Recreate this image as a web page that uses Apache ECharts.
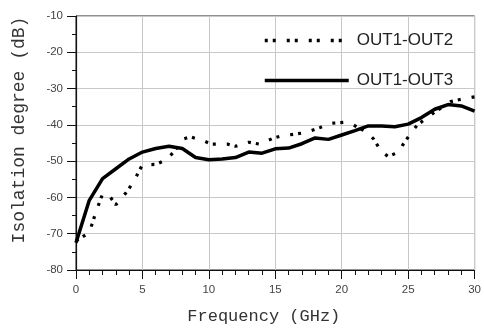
<!DOCTYPE html>
<html><head><meta charset="utf-8">
<script src="https://cdn.jsdelivr.net/npm/echarts@6/dist/echarts.min.js"></script>
<style>html,body{margin:0;padding:0;background:#fff}#c{width:484px;height:330px}</style>
</head><body><div id="c"></div>
<script>
const seriesNames = ['OUT1-OUT2', 'OUT1-OUT3'];
const xTickLabels = [0, 5, 10, 15, 20, 25, 30];
const yTickLabels = [-80, -70, -60, -50, -40, -30, -20, -10];
// OUT1-OUT2 (dotted)
const out12Freq = [0, 1, 1.5, 2, 2.5, 3, 3.5, 4, 4.5, 5, 6, 6.8, 7.4, 8, 8.6, 9.6, 10.2, 11.4, 12, 13, 13.8, 14.9, 15.5, 16.6, 17.3, 18.4, 19.1, 20.2, 20.9, 21.9, 22.4, 23, 23.5, 24.3, 24.6, 25.3, 25.7, 27, 28.2, 28.9, 30];
const out12dB = [-72, -69.7, -64, -59, -59.5, -62, -60, -57.5, -54.5, -51, -50.9, -49.6, -47.3, -44, -43.3, -44.4, -45.3, -45.3, -45.9, -44.8, -45.3, -43.6, -43, -42.5, -42.1, -40.7, -39.6, -39.3, -40.1, -42, -43.9, -47.5, -48.7, -47.5, -45.5, -41.8, -40, -36.5, -33.6, -33, -32.3];
// OUT1-OUT3 (solid)
const out13Freq = [0, 1, 2, 3, 4, 5, 6, 7, 8, 9, 10, 11, 12, 13, 14, 15, 16, 17, 18, 19, 20, 21, 22, 23, 24, 25, 26, 27, 28, 29, 30];
const out13dB = [-72.5, -60.8, -54.8, -52.1, -49.4, -47.5, -46.5, -45.9, -46.5, -49.0, -49.6, -49.4, -49.0, -47.5, -47.8, -46.6, -46.4, -45.2, -43.6, -44.0, -42.8, -41.6, -40.3, -40.3, -40.5, -39.8, -38.0, -35.7, -34.4, -34.8, -36.2];

const pairs = (xs, ys) => xs.map((x, i) => [x, ys[i]]);
const chart = echarts.init(document.getElementById('c'), null, {renderer: 'canvas'});
const labelFont = {fontFamily: 'Liberation Sans', fontSize: 11.5, color: '#444'};
chart.setOption({
  animation: false,
  backgroundColor: '#fff',
  grid: {left: 76, right: 4, top: 16, bottom: 58, show: true, borderColor: '#222', borderWidth: 1},
  legend: {
    orient: 'vertical', left: 263, top: 32, itemGap: 23, padding: 0,
    itemWidth: 84, itemHeight: 17,
    itemStyle: {color: 'rgba(0,0,0,0)', borderWidth: 0},
    lineStyle: {width: 3.5},
    textStyle: {fontFamily: 'Liberation Sans', fontSize: 17, color: '#222', padding: [0, 0, 0, 3]},
    data: seriesNames
  },
  xAxis: {
    type: 'value', min: xTickLabels[0], max: xTickLabels[xTickLabels.length - 1], interval: 5,
    name: 'Frequency (GHz)', nameLocation: 'middle', nameGap: 38,
    nameTextStyle: {fontFamily: 'Liberation Mono', fontSize: 17, color: '#333', padding: [0, 23, 0, 0]},
    axisLine: {show: true, onZero: false, lineStyle: {color: '#111', width: 1.2}},
    axisTick: {show: true, length: 9, lineStyle: {color: '#111'}},
    minorTick: {show: true, splitNumber: 5, length: 5, lineStyle: {color: '#111'}},
    axisLabel: {...labelFont, margin: 14},
    splitLine: {show: true, lineStyle: {color: '#c8c8c8', width: 1}}
  },
  yAxis: {
    type: 'value', min: yTickLabels[0], max: yTickLabels[yTickLabels.length - 1], interval: 10,
    name: 'Isolation degree (dB)', nameLocation: 'middle', nameGap: 48,
    nameTextStyle: {fontFamily: 'Liberation Mono', fontSize: 18, color: '#333', padding: [0, 0, 0, 26]},
    axisLine: {show: true, onZero: false, lineStyle: {color: '#111', width: 1.2}},
    axisTick: {show: true, length: 9, lineStyle: {color: '#111'}},
    minorTick: {show: true, splitNumber: 2, length: 4, lineStyle: {color: '#111'}},
    axisLabel: {...labelFont, margin: 13},
    splitLine: {show: true, lineStyle: {color: '#c8c8c8', width: 1}}
  },
  series: [
    {name: seriesNames[0], type: 'line', data: pairs(out12Freq, out12dB), showSymbol: false, symbol: 'none',
     lineStyle: {color: '#000', width: 3.2, type: [3, 5, 3, 11], cap: 'butt'}, itemStyle: {color: '#000'}},
    {name: seriesNames[1], type: 'line', data: pairs(out13Freq, out13dB), showSymbol: false, symbol: 'none',
     lineStyle: {color: '#000', width: 3.5}, itemStyle: {color: '#000'}}
  ]
});
</script></body></html>
